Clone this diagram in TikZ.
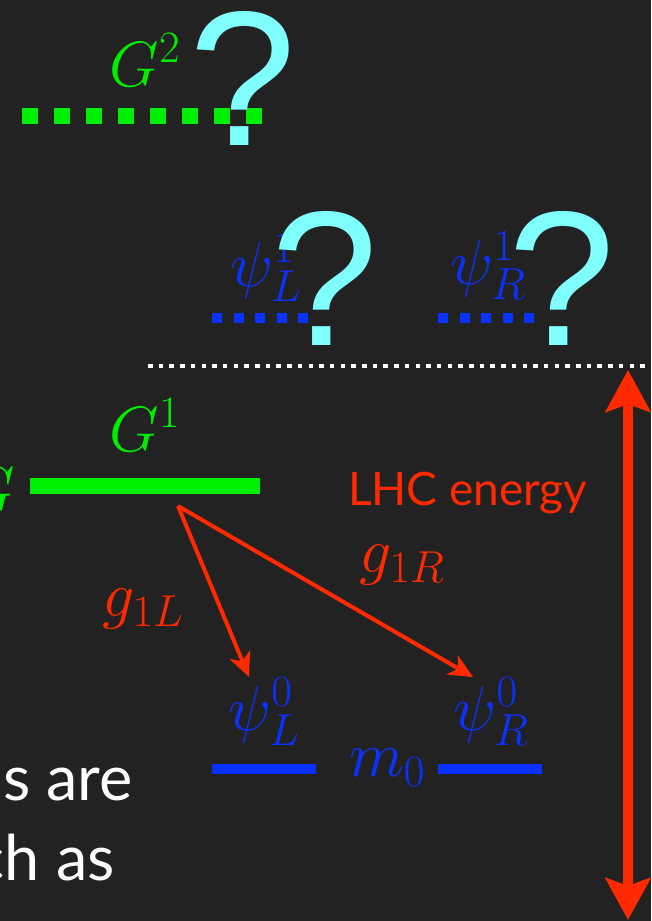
\RequirePackage{fix-cm}
\documentclass[tikz,border=0pt]{standalone}
\usepackage{fontspec}
\newfontfamily\slidefont{Lato}
\newfontfamily\markfont{Liberation Sans}
\usetikzlibrary{arrows.meta,positioning}
\definecolor{slidebg}{HTML}{222222}
\definecolor{gluon}{HTML}{00EE00}
\definecolor{fermion}{HTML}{0A32FF}
\definecolor{coupling}{HTML}{FF2A00}
\definecolor{unknown}{HTML}{80FFFF}

\begin{document}
\begin{tikzpicture}[
    x=1pt, y=-1pt,
    mathlbl/.style={inner sep=0pt, font=\fontsize{64}{70}\selectfont},
    gluonlbl/.style={mathlbl, text=gluon},
    fermionlbl/.style={mathlbl, text=fermion},
    couplbl/.style={mathlbl, text=coupling},
    slidetext/.style={inner sep=0pt, text=white, font=\slidefont\fontsize{63}{70}\selectfont},
    qmark/.style={inner sep=0pt, anchor=base, text=unknown, font=\markfont\fontsize{192}{200}\selectfont},
    gluonlevel/.style={gluon, line width=16pt},
    fermionlevel/.style={fermion, line width=10pt},
    coup/.style={coupling, line width=4pt, -{Stealth[length=24pt, width=22pt, inset=7pt]}},
    energy/.style={coupling, line width=10pt, {Stealth[length=42pt, width=45pt, inset=8pt]}-{Stealth[length=42pt, width=45pt, inset=8pt]}}
]
\useasboundingbox (0,0) rectangle (651,921);
\fill[slidebg] (0,0) rectangle (651,921);
\clip (0,0) rectangle (651,921);

% Levels
\coordinate (g2l) at (22,116);   \coordinate (g2r) at (262,116);
\coordinate (g1l) at (30,486);   \coordinate (g1r) at (260,486);
\coordinate (pl1l) at (212,318); \coordinate (pl1r) at (308,318);
\coordinate (pr1l) at (438,318); \coordinate (pr1r) at (534,318);
\coordinate (pl0l) at (212,769); \coordinate (pl0r) at (316,769);
\coordinate (pr0l) at (438,769); \coordinate (pr0r) at (542,769);
\coordinate (cutl) at (148,366); \coordinate (cutr) at (651,366);

\draw[gluonlevel, dash pattern=on 16pt off 16pt] (g2l) -- (g2r);
\draw[gluonlevel] (g1l) -- (g1r);
\draw[fermionlevel, dash pattern=on 10pt off 11.5pt] (pl1l) -- (pl1r);
\draw[fermionlevel, dash pattern=on 10pt off 11.5pt] (pr1l) -- (pr1r);
\draw[fermionlevel] (pl0l) -- (pl0r);
\draw[fermionlevel] (pr0l) -- (pr0r);
\draw[white, line width=4.5pt, dash pattern=on 4.5pt off 6.2pt] (cutl) -- (cutr);

% Labels
\node[gluonlbl] (g2) at (145,60) {$G^2$};
\node[gluonlbl] (g1) at (145,425) {$G^1$};
\node[gluonlbl, anchor=east] (g0) at (15,490) {$G$};
\node[fermionlbl] (psiL1) at (266,268) {$\psi_L^1$};
\node[fermionlbl] (psiR1) at (488,266) {$\psi_R^1$};
\node[fermionlbl] (psiL0) at (264,712) {$\psi_L^0$};
\node[fermionlbl] (psiR0) at (491,712) {$\psi_R^0$};
\node[fermionlbl] (m0) at (387,768) {$m_0$};
\node[couplbl] (g1L) at (143,609) {$g_{1L}$};
\node[couplbl] (g1R) at (402,565) {$g_{1R}$};
\node[inner sep=0pt, anchor=base west, text=coupling, font=\slidefont\fontsize{46}{50}\selectfont] (lhc) at (348,505) {LHC energy};
\node[slidetext, anchor=base east] (line1) at (133,800) {s are};
\node[slidetext, anchor=base east] (line2) at (115,880) {ch as};

% Unknown levels
\node[qmark] (q2) at (243,145) {?};
\node[qmark] (qL) at (325,345) {?};
\node[qmark] (qR) at (562,345) {?};

% Couplings
\coordinate (decay) at (178,506);
\coordinate (tipL) at (249,677);
\coordinate (tipR) at (473,677);
\draw[coup] (decay) -- (tipL);
\draw[coup] (decay) -- (tipR);

% Energy reach
\coordinate (etop) at (628,370);
\coordinate (ebot) at (628,920);
\draw[energy] (etop) -- (ebot);

\end{tikzpicture}
\end{document}
